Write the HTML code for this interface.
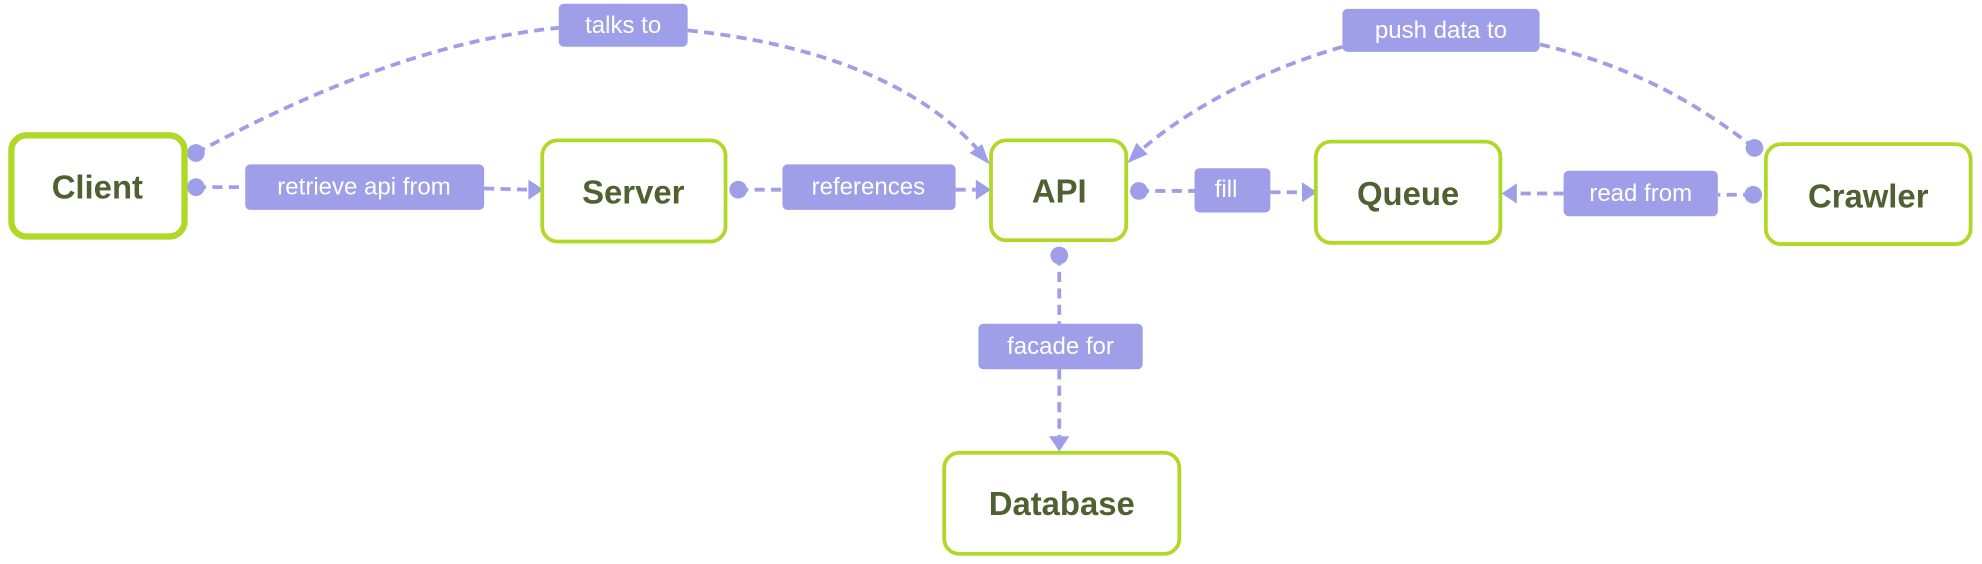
<!DOCTYPE html>
<html><head><meta charset="utf-8"><style>
html,body{margin:0;padding:0;background:#fff;}
svg{display:block;}
.n{fill:#fff;stroke:#b0d827;stroke-width:3;}
.t{font-family:"Liberation Sans",sans-serif;font-weight:bold;font-size:26px;fill:#4f6130;text-anchor:middle;dominant-baseline:central;}
.l{fill:#9e9fe8;}
.lt{font-family:"Liberation Sans",sans-serif;font-size:19px;fill:#fff;text-anchor:middle;dominant-baseline:central;}
.e{fill:none;stroke:#9e9fe8;stroke-width:3;stroke-dasharray:8 5;}
.d{fill:#9e9fe8;}
</style></head><body>
<svg width="1982" height="564" viewBox="0 0 1568 446" preserveAspectRatio="none" xmlns="http://www.w3.org/2000/svg">
<path class="e" d="M155 121 C240 75 340 32 442 22"/>
<path class="e" d="M544 24 C650 35 730 68 776 121"/>
<polygon class="d" points="783,130 767,121 777,114"/>
<path class="e" d="M1388 117 C1330 72 1280 50 1218 35"/>
<path class="e" d="M1062 37 C990 58 935 90 900 121"/>
<polygon class="d" points="892,129 899,113 908,122"/>
<line class="e" x1="155" y1="148" x2="194" y2="148"/>
<line class="e" x1="383" y1="149" x2="418" y2="150"/>
<polygon class="d" points="430,150 418,142 418,158"/>
<line class="e" x1="584" y1="150" x2="619" y2="150"/>
<line class="e" x1="756" y1="150" x2="772" y2="150"/>
<polygon class="d" points="784,150 772,142 772,158"/>
<line class="e" x1="901" y1="151" x2="945" y2="151"/>
<line class="e" x1="1005" y1="152" x2="1030" y2="152"/>
<polygon class="d" points="1042,152 1030,144 1030,160"/>
<line class="e" x1="1387" y1="154" x2="1359" y2="154"/>
<line class="e" x1="1237" y1="153" x2="1199" y2="153"/>
<polygon class="d" points="1188,153 1200,145 1200,161"/>
<line class="e" x1="838" y1="202" x2="838" y2="256"/>
<line class="e" x1="838" y1="292" x2="838" y2="345"/>
<polygon class="d" points="838,357 830,345 846,345"/>
<circle class="d" cx="155" cy="121" r="7"/>
<circle class="d" cx="155" cy="148" r="7"/>
<circle class="d" cx="584" cy="150" r="7"/>
<circle class="d" cx="901" cy="151" r="7"/>
<circle class="d" cx="1387" cy="154" r="7"/>
<circle class="d" cx="1388" cy="117" r="7"/>
<circle class="d" cx="838" cy="202" r="7"/>
<rect class="n" x="9" y="107" width="137" height="80" rx="12" style="stroke-width:5"/>
<text class="t" x="77" y="148">Client</text>
<rect class="n" x="429" y="111" width="145" height="80" rx="12"/>
<text class="t" x="501" y="152">Server</text>
<rect class="n" x="784" y="111" width="107" height="79" rx="12"/>
<text class="t" x="838" y="151">API</text>
<rect class="n" x="1041" y="112" width="146" height="80" rx="12"/>
<text class="t" x="1114" y="153">Queue</text>
<rect class="n" x="1397" y="114" width="162" height="79" rx="12"/>
<text class="t" x="1478" y="155">Crawler</text>
<rect class="n" x="747" y="358" width="186" height="80" rx="12"/>
<text class="t" x="840" y="398">Database</text>
<rect class="l" x="442" y="3" width="102" height="34" rx="4"/>
<text class="lt" x="493" y="20">talks to</text>
<rect class="l" x="194" y="130" width="189" height="36" rx="4"/>
<text class="lt" x="288" y="148">retrieve api from</text>
<rect class="l" x="619" y="130" width="137" height="36" rx="4"/>
<text class="lt" x="687" y="148">references</text>
<rect class="l" x="945" y="133" width="60" height="35" rx="4"/>
<text class="lt" x="970" y="150">fill</text>
<rect class="l" x="1237" y="135" width="122" height="36" rx="4"/>
<text class="lt" x="1298" y="153">read from</text>
<rect class="l" x="1062" y="7" width="156" height="34" rx="4"/>
<text class="lt" x="1140" y="24">push data to</text>
<rect class="l" x="774" y="256" width="130" height="36" rx="4"/>
<text class="lt" x="839" y="274">facade for</text>
</svg>
</body></html>
